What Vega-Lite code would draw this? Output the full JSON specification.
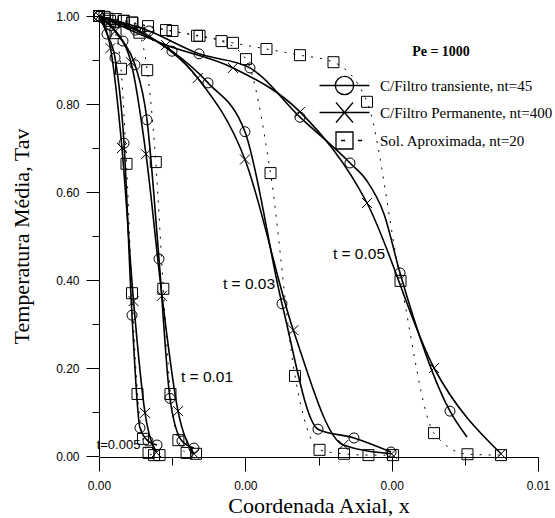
{
  "$schema": "https://vega.github.io/schema/vega-lite/v6.json",
  "width": 439,
  "height": 440,
  "padding": {"left": 10, "top": 8, "right": 5, "bottom": 5},
  "background": "white",
  "config": {"view": {"stroke": null}},
  "datasets": {
    "curves": [
      {"s": "T", "t": "0.005", "x": 0, "y": 1, "m": 1},
      {"s": "T", "t": "0.005", "x": 0.000109, "y": 0.959, "m": 1},
      {"s": "T", "t": "0.005", "x": 0.000219, "y": 0.905, "m": 1},
      {"s": "T", "t": "0.005", "x": 0.000342, "y": 0.711, "m": 1},
      {"s": "T", "t": "0.005", "x": 0.000451, "y": 0.320, "m": 1},
      {"s": "T", "t": "0.005", "x": 0.000560, "y": 0.064, "m": 1},
      {"s": "T", "t": "0.005", "x": 0.000670, "y": 0.034, "m": 1},
      {"s": "T", "t": "0.005", "x": 0.000793, "y": 0.025, "m": 1},

      {"s": "P", "t": "0.005", "x": 0, "y": 1, "m": 1},
      {"s": "P", "t": "0.005", "x": 0.000157, "y": 0.927, "m": 1},
      {"s": "P", "t": "0.005", "x": 0.000314, "y": 0.700, "m": 1},
      {"s": "P", "t": "0.005", "x": 0.000472, "y": 0.352, "m": 1},
      {"s": "P", "t": "0.005", "x": 0.000629, "y": 0.098, "m": 1},
      {"s": "P", "t": "0.005", "x": 0.000786, "y": 0.008, "m": 1},

      {"s": "A", "t": "0.005", "x": 0, "y": 1, "m": 1},
      {"s": "A", "t": "0.005", "x": 0.0000752, "y": 0.998, "m": 1},
      {"s": "A", "t": "0.005", "x": 0.000150, "y": 0.989, "m": 1},
      {"s": "A", "t": "0.005", "x": 0.000226, "y": 0.961, "m": 1},
      {"s": "A", "t": "0.005", "x": 0.000301, "y": 0.880, "m": 1},
      {"s": "A", "t": "0.005", "x": 0.000376, "y": 0.664, "m": 1},
      {"s": "A", "t": "0.005", "x": 0.000451, "y": 0.370, "m": 1},
      {"s": "A", "t": "0.005", "x": 0.000526, "y": 0.141, "m": 1},
      {"s": "A", "t": "0.005", "x": 0.000601, "y": 0.039, "m": 1},
      {"s": "A", "t": "0.005", "x": 0.000677, "y": 0.007, "m": 1},
      {"s": "A", "t": "0.005", "x": 0.000752, "y": 0.002, "m": 1},
      {"s": "A", "t": "0.005", "x": 0.000827, "y": 0.002, "m": 1},

      {"s": "T", "t": "0.01", "x": 0, "y": 1, "m": 1},
      {"s": "T", "t": "0.01", "x": 0.000164, "y": 0.978, "m": 1},
      {"s": "T", "t": "0.01", "x": 0.000328, "y": 0.943, "m": 1},
      {"s": "T", "t": "0.01", "x": 0.000492, "y": 0.889, "m": 1},
      {"s": "T", "t": "0.01", "x": 0.000656, "y": 0.764, "m": 1},
      {"s": "T", "t": "0.01", "x": 0.000820, "y": 0.448, "m": 1},
      {"s": "T", "t": "0.01", "x": 0.000970, "y": 0.131, "m": 1},
      {"s": "T", "t": "0.01", "x": 0.001134, "y": 0.034, "m": 1},
      {"s": "T", "t": "0.01", "x": 0.001298, "y": 0.018, "m": 1},

      {"s": "P", "t": "0.01", "x": 0, "y": 1, "m": 1},
      {"s": "P", "t": "0.01", "x": 0.000219, "y": 0.965, "m": 1},
      {"s": "P", "t": "0.01", "x": 0.000437, "y": 0.895, "m": 1},
      {"s": "P", "t": "0.01", "x": 0.000642, "y": 0.686, "m": 1},
      {"s": "P", "t": "0.01", "x": 0.000861, "y": 0.364, "m": 1},
      {"s": "P", "t": "0.01", "x": 0.001080, "y": 0.102, "m": 1},
      {"s": "P", "t": "0.01", "x": 0.001298, "y": 0.005, "m": 1},

      {"s": "A", "t": "0.01", "x": 0, "y": 1, "m": 1},
      {"s": "A", "t": "0.01", "x": 0.000115, "y": 0.994, "m": 1},
      {"s": "A", "t": "0.01", "x": 0.000230, "y": 0.993, "m": 1},
      {"s": "A", "t": "0.01", "x": 0.000342, "y": 0.989, "m": 1},
      {"s": "A", "t": "0.01", "x": 0.000451, "y": 0.985, "m": 1},
      {"s": "A", "t": "0.01", "x": 0.000551, "y": 0.962, "m": 1},
      {"s": "A", "t": "0.01", "x": 0.000659, "y": 0.877, "m": 1},
      {"s": "A", "t": "0.01", "x": 0.000776, "y": 0.668, "m": 1},
      {"s": "A", "t": "0.01", "x": 0.000879, "y": 0.380, "m": 1},
      {"s": "A", "t": "0.01", "x": 0.000977, "y": 0.141, "m": 1},
      {"s": "A", "t": "0.01", "x": 0.001085, "y": 0.036, "m": 1},
      {"s": "A", "t": "0.01", "x": 0.001197, "y": 0.007, "m": 1},
      {"s": "A", "t": "0.01", "x": 0.001326, "y": 0.005, "m": 1},

      {"s": "T", "t": "0.03", "x": 0, "y": 1, "m": 1},
      {"s": "T", "t": "0.03", "x": 0.000499, "y": 0.968, "m": 1},
      {"s": "T", "t": "0.03", "x": 0.000998, "y": 0.920, "m": 1},
      {"s": "T", "t": "0.03", "x": 0.001490, "y": 0.848, "m": 1},
      {"s": "T", "t": "0.03", "x": 0.001995, "y": 0.737, "m": 1},
      {"s": "T", "t": "0.03", "x": 0.002501, "y": 0.346, "m": 1},
      {"s": "T", "t": "0.03", "x": 0.002993, "y": 0.061, "m": 1},
      {"s": "T", "t": "0.03", "x": 0.003485, "y": 0.041, "m": 1},
      {"s": "T", "t": "0.03", "x": 0.003991, "y": 0.009, "m": 1},

      {"s": "P", "t": "0.03", "x": 0, "y": 1, "m": 1},
      {"s": "P", "t": "0.03", "x": 0.000670, "y": 0.955, "m": 1},
      {"s": "P", "t": "0.03", "x": 0.001349, "y": 0.859, "m": 1},
      {"s": "P", "t": "0.03", "x": 0.001995, "y": 0.674, "m": 1},
      {"s": "P", "t": "0.03", "x": 0.002656, "y": 0.286, "m": 1},
      {"s": "P", "t": "0.03", "x": 0.003339, "y": 0.025, "m": 1},
      {"s": "P", "t": "0.03", "x": 0.004000, "y": 0.005, "m": 1},

      {"s": "A", "t": "0.03", "x": 0, "y": 1, "m": 1},
      {"s": "A", "t": "0.03", "x": 0.000335, "y": 0.989, "m": 1},
      {"s": "A", "t": "0.03", "x": 0.000670, "y": 0.977, "m": 1},
      {"s": "A", "t": "0.03", "x": 0.001005, "y": 0.966, "m": 1},
      {"s": "A", "t": "0.03", "x": 0.001339, "y": 0.955, "m": 1},
      {"s": "A", "t": "0.03", "x": 0.001674, "y": 0.943, "m": 1},
      {"s": "A", "t": "0.03", "x": 0.002009, "y": 0.902, "m": 1},
      {"s": "A", "t": "0.03", "x": 0.002344, "y": 0.643, "m": 1},
      {"s": "A", "t": "0.03", "x": 0.002679, "y": 0.182, "m": 1},
      {"s": "A", "t": "0.03", "x": 0.003014, "y": 0.014, "m": 1},
      {"s": "A", "t": "0.03", "x": 0.003349, "y": 0.005, "m": 1},
      {"s": "A", "t": "0.03", "x": 0.003683, "y": 0.002, "m": 1},
      {"s": "A", "t": "0.03", "x": 0.004018, "y": 0.002, "m": 1},

      {"s": "T", "t": "0.05", "x": 0, "y": 1, "m": 1},
      {"s": "T", "t": "0.05", "x": 0.000683, "y": 0.966, "m": 1},
      {"s": "T", "t": "0.05", "x": 0.001367, "y": 0.914, "m": 1},
      {"s": "T", "t": "0.05", "x": 0.002064, "y": 0.882, "m": 1},
      {"s": "T", "t": "0.05", "x": 0.002747, "y": 0.770, "m": 1},
      {"s": "T", "t": "0.05", "x": 0.003430, "y": 0.666, "m": 1},
      {"s": "T", "t": "0.05", "x": 0.003663, "y": 0.625, "m": 0},
      {"s": "T", "t": "0.05", "x": 0.003895, "y": 0.550, "m": 0},
      {"s": "T", "t": "0.05", "x": 0.004114, "y": 0.416, "m": 1},
      {"s": "T", "t": "0.05", "x": 0.004797, "y": 0.102, "m": 1},
      {"s": "T", "t": "0.05", "x": 0.005030, "y": 0.043, "m": 0},

      {"s": "P", "t": "0.05", "x": 0, "y": 1, "m": 1},
      {"s": "P", "t": "0.05", "x": 0.000916, "y": 0.934, "m": 1},
      {"s": "P", "t": "0.05", "x": 0.001831, "y": 0.882, "m": 1},
      {"s": "P", "t": "0.05", "x": 0.002747, "y": 0.782, "m": 1},
      {"s": "P", "t": "0.05", "x": 0.003663, "y": 0.575, "m": 1},
      {"s": "P", "t": "0.05", "x": 0.004579, "y": 0.200, "m": 1},
      {"s": "P", "t": "0.05", "x": 0.005494, "y": 0.005, "m": 1},

      {"s": "A", "t": "0.05", "x": 0, "y": 1, "m": 1},
      {"s": "A", "t": "0.05", "x": 0.000458, "y": 0.985, "m": 1},
      {"s": "A", "t": "0.05", "x": 0.000916, "y": 0.968, "m": 1},
      {"s": "A", "t": "0.05", "x": 0.001374, "y": 0.955, "m": 1},
      {"s": "A", "t": "0.05", "x": 0.001831, "y": 0.939, "m": 1},
      {"s": "A", "t": "0.05", "x": 0.002289, "y": 0.925, "m": 1},
      {"s": "A", "t": "0.05", "x": 0.002747, "y": 0.911, "m": 1},
      {"s": "A", "t": "0.05", "x": 0.003205, "y": 0.895, "m": 1},
      {"s": "A", "t": "0.05", "x": 0.003663, "y": 0.805, "m": 1},
      {"s": "A", "t": "0.05", "x": 0.004121, "y": 0.398, "m": 1},
      {"s": "A", "t": "0.05", "x": 0.004579, "y": 0.052, "m": 1},
      {"s": "A", "t": "0.05", "x": 0.005036, "y": 0.004, "m": 1},
      {"s": "A", "t": "0.05", "x": 0.005494, "y": 0.002, "m": 1}
    ],
    "labels": [
      {"label": "t = 0.05", "x": 0.003553, "y": 0.459, "big": 1},
      {"label": "t = 0.03", "x": 0.00205, "y": 0.391, "big": 1},
      {"label": "t = 0.01", "x": 0.001476, "y": 0.18, "big": 1},
      {"label": "t=0.005", "x": 0.000267, "y": 0.025, "big": 0}
    ]
  },
  "encoding": {
    "x": {
      "field": "x", "type": "quantitative",
      "scale": {"domain": [0, 0.006], "nice": false, "zero": false},
      "axis": {
        "values": [0, 0.001, 0.002, 0.003, 0.004, 0.005, 0.006],
        "labelExpr": "round(datum.value*1000)%2==0 ? format(datum.value,'.2f') : ''",
        "tickSize": {"condition": {"test": "round(datum.value*1000)%2==0", "value": 14}, "value": 8},
        "grid": false, "offset": 1, "labelFlush": false, "labelOverlap": false,
        "domainColor": "black", "tickColor": "black", "labelColor": "black",
        "labelFont": "Liberation Sans", "labelFontSize": 12, "labelPadding": 9,
        "title": "Coordenada Axial, x", "titleFont": "Liberation Serif", "titleFontSize": 22,
        "titleFontWeight": "normal", "titleColor": "black", "titlePadding": 4
      }
    },
    "y": {
      "field": "y", "type": "quantitative",
      "scale": {"domain": [0, 1], "nice": false},
      "axis": {
        "values": [0, 0.1, 0.2, 0.3, 0.4, 0.5, 0.6, 0.7, 0.8, 0.9, 1.0],
        "labelExpr": "round(datum.value*10)%2==0 ? format(datum.value,'.2f') : ''",
        "tickSize": {"condition": {"test": "round(datum.value*10)%2==0", "value": 13}, "value": 7},
        "grid": false, "labelFlush": false, "labelOverlap": false,
        "domainColor": "black", "tickColor": "black", "labelColor": "black",
        "labelFont": "Liberation Sans", "labelFontSize": 12, "labelPadding": 7,
        "title": "Temperatura Média, Tav", "titleFont": "Liberation Serif", "titleFontSize": 22,
        "titleFontWeight": "normal", "titleColor": "black", "titlePadding": 22
      }
    }
  },
  "layer": [
    {
      "data": {"name": "curves"},
      "transform": [{"filter": "datum.s != 'A'"}],
      "mark": {"type": "line", "interpolate": "monotone", "color": "black", "strokeWidth": 1.6},
      "encoding": {"detail": [{"field": "s"}, {"field": "t"}], "order": {"field": "x", "type": "quantitative"}}
    },
    {
      "data": {"name": "curves"},
      "transform": [{"filter": "datum.s == 'A'"}],
      "mark": {"type": "line", "interpolate": "monotone", "color": "black", "strokeWidth": 1, "strokeDash": [2, 7]},
      "encoding": {"detail": {"field": "t"}, "order": {"field": "x", "type": "quantitative"}}
    },
    {
      "data": {"name": "curves"},
      "transform": [{"filter": "datum.m == 1"}],
      "mark": {"type": "point", "filled": false, "color": "black", "strokeWidth": 1, "opacity": 1, "size": 100},
      "encoding": {
        "shape": {
          "field": "s", "type": "nominal",
          "scale": {"domain": ["T", "P", "A"], "range": ["circle", "M-1,-1L1,1M-1,1L1,-1", "M-1.1,-1.1H1.1V1.1H-1.1Z"]},
          "legend": null
        }
      }
    },
    {
      "data": {"name": "curves"},
      "transform": [{"filter": "datum.m == 99"}],
      "mark": {"type": "point", "filled": false, "color": "black", "strokeWidth": 1.3, "opacity": 1, "size": 729},
      "encoding": {
        "shape": {
          "field": "s", "type": "nominal",
          "scale": {
            "domain": ["T", "P", "A"],
            "range": [
              "M-1.85,0H1.85M0.68,0A0.68,0.68 0 1,1 -0.68,0A0.68,0.68 0 1,1 0.68,0",
              "M-1.85,0H1.85M-0.63,-0.74L0.63,0.74M-0.63,0.74L0.63,-0.74",
              "M-0.63,-0.63H0.63V0.63H-0.63ZM-0.25,0H0.05M1.0,0H1.3"
            ]
          },
          "legend": {
            "orient": "none", "legendX": 231, "legendY": 29, "padding": 0,
            "title": "Pe = 1000", "titleFont": "Liberation Serif", "titleFontSize": 14, "titleFontWeight": "bold",
            "titleColor": "black", "titleAnchor": "middle", "titleAlign": "center", "titlePadding": 12,
            "labelExpr": "datum.value == 'T' ? 'C/Filtro transiente, nt=45' : datum.value == 'P' ? 'C/Filtro Permanente, nt=400' : 'Sol. Aproximada, nt=20'",
            "labelFont": "Liberation Serif", "labelFontSize": 15, "labelColor": "black", "labelLimit": 300,
            "labelOffset": 21, "symbolSize": 729, "rowPadding": -11,
            "symbolStrokeColor": "black", "symbolStrokeWidth": 1.3, "symbolOpacity": 1,
            "symbolFillColor": "transparent"
          }
        }
      }
    },
    {
      "data": {"name": "labels"},
      "transform": [{"filter": "datum.big == 1"}],
      "mark": {"type": "text", "font": "Liberation Sans", "fontSize": 15.5, "color": "black"},
      "encoding": {"text": {"field": "label"}}
    },
    {
      "data": {"name": "labels"},
      "transform": [{"filter": "datum.big == 0"}],
      "mark": {"type": "text", "font": "Liberation Sans", "fontSize": 13, "color": "black"},
      "encoding": {"text": {"field": "label"}}
    }
  ],
  "resolve": {"scale": {"shape": "independent"}, "legend": {"shape": "independent"}}
}
